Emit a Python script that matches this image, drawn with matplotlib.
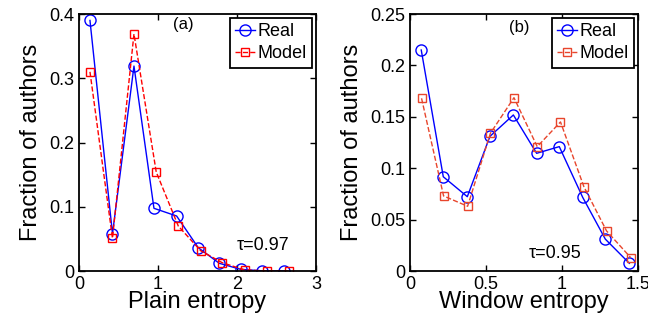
import matplotlib
matplotlib.use("Agg")
import matplotlib.pyplot as plt

plt.rcParams["font.family"] = ["Liberation Sans", "DejaVu Sans"]

# (a) plain entropy
plain_x_real = [0.139, 0.424, 0.696, 0.949, 1.236, 1.51, 1.776, 2.046, 2.32, 2.60]
plain_real = [0.390, 0.058, 0.319, 0.0976, 0.0856, 0.0363, 0.012, 0.0026, 0.0003, 0.0001]
plain_x_model = [0.139, 0.424, 0.696, 0.978, 1.257, 1.54, 1.814, 2.10, 2.376, 2.66]
plain_model = [0.310, 0.051, 0.369, 0.154, 0.070, 0.0316, 0.0129, 0.0016, 0.0002, 0.0001]

# (b) window entropy
window_x_real = [0.074, 0.219, 0.377, 0.526, 0.680, 0.833, 0.982, 1.136, 1.285, 1.443]
window_real = [0.215, 0.0917, 0.0723, 0.131, 0.1518, 0.1145, 0.121, 0.0717, 0.031, 0.0075]
window_x_model = [0.076, 0.221, 0.379, 0.529, 0.684, 0.837, 0.990, 1.144, 1.293, 1.452]
window_model = [0.168, 0.073, 0.063, 0.134, 0.1686, 0.121, 0.145, 0.082, 0.039, 0.013]

fig = plt.figure(figsize=(6.48, 3.2), dpi=100)
ax1 = fig.add_axes([0.1219, 0.1531, 0.3657, 0.8031])
ax2 = fig.add_axes([0.6327, 0.1531, 0.3519, 0.8031])


def draw(ax, xr, yr, xm, ym, red):
    ax.plot(xr, yr, "-o", color="#0000ff", lw=1.0, ms=8, mfc="none", mew=1.0, label="Real")
    ax.plot(xm, ym, "--s", color=red, lw=1.0, ms=6, mfc="none", mew=1.0, label="Model")
    ax.tick_params(direction="in", top=True, right=True, labelsize=13, length=4, width=1)
    for s in ax.spines.values():
        s.set_linewidth(1.3)
    ax.set_ylabel("Fraction of authors", fontsize=17, labelpad=5)
    leg = ax.legend(loc="upper right", fontsize=13, handlelength=1.1, handletextpad=0.15,
                    borderpad=0.3, labelspacing=0.3, borderaxespad=0.2,
                    fancybox=False, edgecolor="black", framealpha=1)
    leg.get_frame().set_linewidth(1.3)


draw(ax1, plain_x_real, plain_real, plain_x_model, plain_model, "#ff0000")
ax1.set_xlim(0, 3)
ax1.set_ylim(0, 0.4)
ax1.set_xticks([0, 1, 2, 3])
ax1.set_yticks([0, 0.1, 0.2, 0.3, 0.4])
ax1.set_yticklabels(["0", "0.1", "0.2", "0.3", "0.4"])
ax1.set_xlabel("Plain entropy", fontsize=17, labelpad=-1)
ax1.text(1.32, 0.383, "(a)", fontsize=12, ha="center", va="center")
ax1.text(2.33, 0.040, "τ=0.97", fontsize=13, ha="center", va="center")

draw(ax2, window_x_real, window_real, window_x_model, window_model, "#e8452c")
ax2.set_xlim(0, 1.5)
ax2.set_ylim(0, 0.25)
ax2.set_xticks([0, 0.5, 1, 1.5])
ax2.set_xticklabels(["0", "0.5", "1", "1.5"])
ax2.set_yticks([0, 0.05, 0.1, 0.15, 0.2, 0.25])
ax2.set_yticklabels(["0", "0.05", "0.1", "0.15", "0.2", "0.25"])
ax2.set_xlabel("Window entropy", fontsize=17, labelpad=-1)
ax2.text(0.717, 0.237, "(b)", fontsize=12, ha="center", va="center")
ax2.text(0.954, 0.0175, "τ=0.95", fontsize=13, ha="center", va="center")

fig.savefig("out.png", dpi=100)
